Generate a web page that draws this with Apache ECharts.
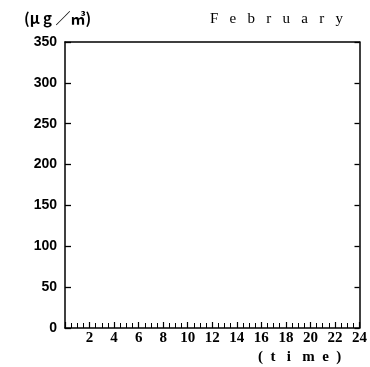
<!DOCTYPE html>
<html>
<head>
<meta charset="utf-8">
<script src="https://cdn.jsdelivr.net/npm/echarts@6/dist/echarts.min.js"></script>
<style>html,body{margin:0;padding:0;background:#fff}#c{width:370px;height:367px}</style>
</head>
<body>
<div id="c"></div>
<script>
// Data (the reference shows an empty plot: no series drawn)
var hours = [];               // x values (hours) of plotted points — none visible
var concentration = [];       // μg/m³ values — none visible
var yTicks = [0, 50, 100, 150, 200, 250, 300, 350];
var xTickLabels = [2, 4, 6, 8, 10, 12, 14, 16, 18, 20, 22, 24];
var unitLabel = '(μ g ／㎥)';
var monthLabel = 'F   e   b   r   u   a   r   y';
var timeLabel = '(  t   i   m  e  )';

var seriesData = hours.map(function (h, i) { return [h, concentration[i]]; });
var yMin = yTicks[0], yMax = yTicks[yTicks.length - 1], yStep = yTicks[1] - yTicks[0];

var chart = echarts.init(document.getElementById('c'), null, {renderer: 'canvas'});
var axisLineStyle = {color: '#000', width: 1.5};
chart.setOption({
  backgroundColor: '#fff',
  animation: false,
  title: [
    {text: unitLabel, left: 19, top: 6, textStyle: {fontFamily: 'Noto Sans CJK JP', fontSize: 15, fontWeight: 'bold', color: '#000'}},
    {text: monthLabel, left: 205, top: 7, textStyle: {fontFamily: 'Liberation Serif', fontSize: 15, fontWeight: 'normal', color: '#000'}},
    {text: timeLabel, left: 253, top: 345, textStyle: {fontFamily: 'Liberation Serif', fontSize: 15, fontWeight: 'bold', color: '#000'}}
  ],
  grid: {left: 65, right: 8, top: 42, bottom: 39},
  xAxis: [{
    type: 'value', min: 0, max: 24, interval: 2,
    axisLine: {show: true, lineStyle: axisLineStyle},
    axisTick: {show: true, inside: true, length: 6, lineStyle: {color: '#000', width: 1.2}},
    minorTick: {show: true, splitNumber: 4, length: 5, lineStyle: {color: '#000', width: 1}},
    splitLine: {show: false},
    axisLabel: {
      showMinLabel: false, margin: 3, color: '#000',
      fontFamily: 'Liberation Serif', fontSize: 15, fontWeight: 'bold',
      formatter: function (v) { return xTickLabels.indexOf(v) >= 0 ? String(v) : ''; }
    }
  }, {
    type: 'value', min: 0, max: 24, position: 'top',
    axisLine: {show: true, onZero: false, lineStyle: axisLineStyle},
    axisTick: {show: false}, axisLabel: {show: false}, splitLine: {show: false}
  }],
  yAxis: [{
    type: 'value', min: yMin, max: yMax, interval: yStep,
    axisLine: {show: true, lineStyle: axisLineStyle},
    axisTick: {show: true, inside: true, length: 6, lineStyle: {color: '#000', width: 1.3}},
    splitLine: {show: false},
    axisLabel: {margin: 8, color: '#000', fontFamily: 'Liberation Sans', fontSize: 14, fontWeight: 'bold'}
  }, {
    type: 'value', min: yMin, max: yMax, interval: yStep, position: 'right',
    axisLine: {show: true, onZero: false, lineStyle: axisLineStyle},
    axisTick: {show: true, inside: true, length: 5, lineStyle: {color: '#000', width: 1.3}},
    axisLabel: {show: false}, splitLine: {show: false}
  }],
  series: [{
    type: 'line', data: seriesData, showSymbol: false,
    lineStyle: {color: '#000', width: 1}
  }]
});
</script>
</body>
</html>
